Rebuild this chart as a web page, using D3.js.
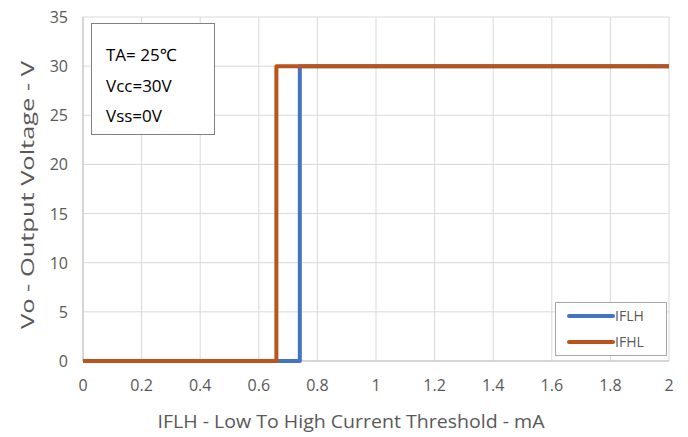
<!DOCTYPE html>
<html><head><meta charset="utf-8">
<script src="https://cdn.jsdelivr.net/npm/d3@7"></script>
<style>body{margin:0;background:#fff}svg{display:block}text{font-family:"Open Sans","Noto Sans",sans-serif}</style>
</head><body>
<svg id="c" width="688" height="437"></svg>
<script>
const xTicks = [0,0.2,0.4,0.6,0.8,1,1.2,1.4,1.6,1.8,2];
const yTicks = [0,5,10,15,20,25,30,35];
const iflhX = [0,0.74,0.74,2];
const iflhY = [0,0,30,30];
const ifhlX = [0,0.66,0.66,2];
const ifhlY = [0,0,30,30];
const seriesNames = ["IFLH","IFHL"];
const colors = ["#4472C4","#BA541C"];
const notes = ["TA= 25℃","Vcc=30V","Vss=0V"];

const svg = d3.select("#c");
const L=83,R=669,T=17,B=361;
const x = d3.scaleLinear().domain([0,2]).range([L,R]);
const y = d3.scaleLinear().domain([0,35]).range([B,T]);

// grid
svg.append("g").selectAll("line").data(xTicks).join("line")
 .attr("x1",d=>x(d)).attr("x2",d=>x(d)).attr("y1",T).attr("y2",B)
 .attr("stroke","#d9d9d9").attr("stroke-width",1);
svg.append("g").selectAll("line").data(yTicks).join("line")
 .attr("x1",L).attr("x2",R).attr("y1",d=>y(d)).attr("y2",d=>y(d))
 .attr("stroke","#d9d9d9").attr("stroke-width",1);
svg.append("line").attr("x1",L).attr("x2",L).attr("y1",T).attr("y2",B).attr("stroke","#bfbfbf");
svg.append("line").attr("x1",L).attr("x2",R).attr("y1",B).attr("y2",B).attr("stroke","#bfbfbf");

// tick labels
svg.append("g").selectAll("text").data(xTicks).join("text")
 .attr("x",d=>x(d)).attr("y",B+30).attr("text-anchor","middle")
 .attr("font-size",16).attr("fill","#595959").text(d=>d);
svg.append("g").selectAll("text").data(yTicks).join("text")
 .attr("x",L-15).attr("y",d=>y(d)+6).attr("text-anchor","end")
 .attr("font-size",16).attr("fill","#595959").text(d=>d);

// axis titles
svg.append("text").attr("x",351).attr("y",428).attr("text-anchor","middle")
 .attr("font-size",18.5).attr("fill","#595959").attr("textLength",387).attr("lengthAdjust","spacingAndGlyphs")
 .text("IFLH - Low To High Current Threshold - mA");
svg.append("text").attr("transform","translate(34,195) rotate(-90)").attr("text-anchor","middle")
 .attr("font-size",18.5).attr("fill","#595959").attr("textLength",268).attr("lengthAdjust","spacingAndGlyphs")
 .text("Vo - Output Voltage - V");

// lines
const line = d3.line().x(d=>x(d[0])).y(d=>y(d[1]));
const data = [d3.zip(iflhX,iflhY), d3.zip(ifhlX,ifhlY)];
data.forEach((d,i)=>{
 svg.append("path").datum(d).attr("d",line).attr("fill","none")
  .attr("stroke",colors[i]).attr("stroke-width",4).attr("stroke-linejoin","round");
});

// note box
svg.append("rect").attr("x",91.5).attr("y",23.5).attr("width",123).attr("height",111)
 .attr("fill","#fff").attr("stroke","#808080");
notes.forEach((t,i)=>{
 svg.append("text").attr("x",106).attr("y",[61,92,122][i]).attr("font-size",17)
  .attr("fill","#000").text(t);
});

// legend
svg.append("rect").attr("x",555.5).attr("y",302.5).attr("width",111).attr("height",53)
 .attr("fill","#fff").attr("stroke","#a6a6a6");
seriesNames.forEach((n,i)=>{
 const yy = 316 + i*26;
 svg.append("line").attr("x1",569).attr("x2",613).attr("y1",yy).attr("y2",yy)
  .attr("stroke",colors[i]).attr("stroke-width",4).attr("stroke-linecap","round");
 svg.append("text").attr("x",615).attr("y",yy+5).attr("font-size",14)
  .attr("fill","#595959").text(n);
});
</script>
</body></html>
